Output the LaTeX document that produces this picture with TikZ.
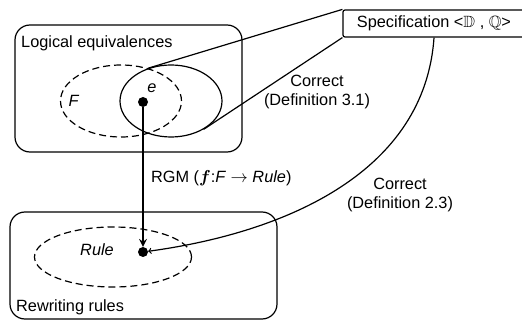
\documentclass[tikz,border=0pt]{standalone}
\usepackage{amsmath,amssymb,bm}
\usepackage{fontspec}
\setmainfont{Liberation Sans}
\usetikzlibrary{shapes.geometric, arrows, positioning}
\tikzstyle{region} = [rectangle, rounded corners=15pt, draw=black, line width=1.2pt, inner sep=0pt]
\tikzstyle{spec} = [rectangle, rounded corners=2pt, minimum width=182pt, minimum height=27pt, text centered, draw=black, line width=1.2pt, inner sep=0pt]
\tikzstyle{set} = [ellipse, draw=black, line width=1.2pt, inner sep=0pt, dash pattern=on 7pt off 4pt]
\tikzstyle{subset} = [ellipse, draw=black, line width=1.2pt, inner sep=0pt]
\tikzstyle{elem} = [circle, fill=black, minimum size=10pt, inner sep=0pt]
\tikzstyle{link} = [line width=1.2pt]
\tikzstyle{arrow} = [line width=2.4pt,->,>=stealth]
\tikzstyle{correct} = [line width=1.2pt,->,>=to]

\begin{document}
\fontsize{16.3}{19}\selectfont
\begin{tikzpicture}[x=1pt, y=-1pt]
      \useasboundingbox (0,0) rectangle (522,320);

      \node (logic) [region, minimum width=227pt, minimum height=127pt] at (128.5,88.5) {};
      \node (logic_lbl) [anchor=west, inner sep=0pt] at (21,43) {Logical equivalences};
      \node (fset) [set, minimum width=121pt, minimum height=72pt] at (121,101) {};
      \node (eset) [subset, minimum width=102pt, minimum height=72pt] at (171,101) {};
      \node (flbl) [inner sep=0pt] at (74,101) {\textit{F}};
      \node (edot) [elem] at (143,102) {};
      \node (elbl) [inner sep=0pt] at (152,88) {\textit{e}};

      \node (spec) [spec] at (434,23.5) {Specification <$\mathbb{D}$ , $\mathbb{Q}$>};

      \node (rules) [region, minimum width=267pt, minimum height=107pt] at (143.5,265.5) {};
      \node (rules_lbl) [anchor=west, inner sep=0pt] at (16,307) {Rewriting rules};
      \node (rset) [set, minimum width=157pt, minimum height=60pt] at (113,257) {};
      \node (rlbl) [inner sep=0pt] at (97,250) {\textit{Rule}};
      \node (rdot) [elem] at (143,252) {};

      \draw [link] (spec.north west) -- (eset.125);
      \draw [link] (spec.south west) -- (eset.-41);
      \node (corr1) [align=center, inner sep=0pt] at (317,92) {Correct\\(Definition 3.1)};

      \draw [arrow] (edot) -- (rdot);
      \node (rgm) [anchor=west, inner sep=0pt] at (151,178) {RGM ($\bm{f}$:\textit{F} $\rightarrow$ \textit{Rule})};

      \draw [correct] (spec.south) .. controls (425,170) and (290,232) .. (rdot);
      \node (corr2) [align=center, inner sep=0pt] at (400,195) {Correct\\(Definition 2.3)};
    \end{tikzpicture}
\end{document}
